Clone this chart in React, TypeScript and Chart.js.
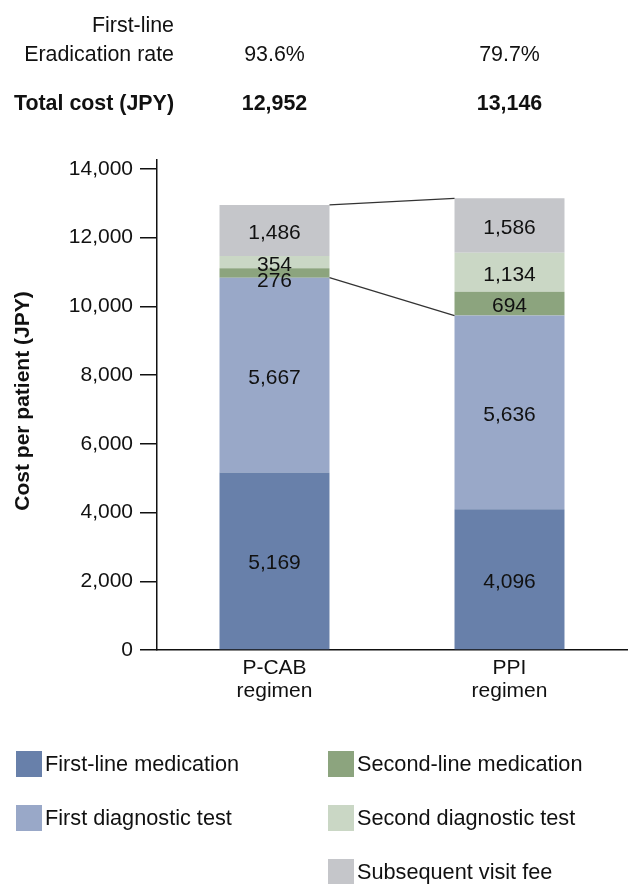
import React, { useEffect, useRef } from "react";
import { Chart, registerables } from "chart.js";

Chart.register(...registerables);

// ---- data ----
const categories = [
  ["P-CAB", "regimen"],
  ["PPI", "regimen"],
];
const seriesNames = [
  "First-line medication",
  "First diagnostic test",
  "Second-line medication",
  "Second diagnostic test",
  "Subsequent visit fee",
];
const firstLineMedication = [5169, 4096];
const firstDiagnosticTest = [5667, 5636];
const secondLineMedication = [276, 694];
const secondDiagnosticTest = [354, 1134];
const subsequentVisitFee = [1486, 1586];
const eradicationRates = [93.6, 79.7];
const yTickValues = [0, 2000, 4000, 6000, 8000, 10000, 12000, 14000];
const yMax = 14260;

// ---- styles ----
const COLORS = ["#6880aa", "#99a8c8", "#8ca47e", "#cad7c5", "#c5c6ca"];
const FONT = "'Liberation Sans', Arial, Helvetica, sans-serif";
const FS = 21;
const FS_HEAD = 21.4;
const FS_LEG = 21.7;
const fmt = (v: number) => v.toLocaleString("en-US");

const seriesValues = [
  firstLineMedication,
  firstDiagnosticTest,
  secondLineMedication,
  secondDiagnosticTest,
  subsequentVisitFee,
];

const totals = categories.map((_, i) =>
  seriesValues.reduce((s, arr) => s + arr[i], 0)
);

const overlayPlugin = {
  id: "overlay",
  afterDatasetsDraw(chart: any) {
    const ctx = chart.ctx;
    const metas = seriesValues.map((_, d) => chart.getDatasetMeta(d));
    ctx.save();
    // connector lines
    ctx.strokeStyle = "#333";
    ctx.lineWidth = 1.2;
    [seriesValues.length - 1, 1].forEach((d) => {
      const a = metas[d].data[0];
      const b = metas[d].data[1];
      ctx.beginPath();
      ctx.moveTo(a.x + a.width / 2, a.y);
      ctx.lineTo(b.x - b.width / 2, b.y);
      ctx.stroke();
    });
    // value labels
    ctx.fillStyle = "#111";
    ctx.font = `${FS}px ${FONT}`;
    ctx.textAlign = "center";
    ctx.textBaseline = "alphabetic";
    metas.forEach((meta: any, d: number) => {
      meta.data.forEach((el: any, i: number) => {
        const h = Math.abs(el.base - el.y);
        let cy = (el.y + el.base) / 2 + 1;
        const next = metas[d + 1] ? metas[d + 1].data[i] : null;
        if (h < 14 && next && Math.abs(next.base - next.y) < 14) cy += 6;
        ctx.fillText(fmt(seriesValues[d][i]), el.x, cy + 7.5);
      });
    });
    ctx.restore();
  },
  afterDraw(chart: any) {
    const ctx = chart.ctx;
    const xs = chart.scales.x;
    const centers = categories.map((_, i) => xs.getPixelForValue(i));
    ctx.save();
    ctx.fillStyle = "#111";
    // header
    ctx.font = `${FS_HEAD}px ${FONT}`;
    ctx.textAlign = "right";
    ctx.textBaseline = "alphabetic";
    ctx.fillText("First-line", 174, 32);
    ctx.fillText("Eradication rate", 174, 61);
    ctx.textAlign = "center";
    eradicationRates.forEach((r, i) => ctx.fillText(`${r.toFixed(1)}%`, centers[i], 61));
    ctx.font = `bold ${FS_HEAD}px ${FONT}`;
    ctx.textAlign = "right";
    ctx.fillText("Total cost (JPY)", 174, 110);
    ctx.textAlign = "center";
    totals.forEach((t, i) => ctx.fillText(fmt(t), centers[i], 110));
    // y-axis title
    ctx.save();
    ctx.translate(23, 401);
    ctx.rotate(-Math.PI / 2);
    ctx.textAlign = "center";
    ctx.textBaseline = "middle";
    ctx.font = `bold ${FS}px ${FONT}`;
    ctx.fillText("Cost per patient (JPY)", 0, 0);
    ctx.restore();
    // legend
    const slots = [
      [16, 751],
      [16, 805],
      [328, 751],
      [328, 805],
      [328, 859],
    ];
    ctx.font = `${FS_LEG}px ${FONT}`;
    ctx.textAlign = "left";
    ctx.textBaseline = "alphabetic";
    seriesNames.forEach((name, d) => {
      const [lx, ly] = slots[d];
      ctx.fillStyle = COLORS[d];
      ctx.fillRect(lx, ly, 26, 26);
      ctx.fillStyle = "#111";
      ctx.fillText(name, lx + 29, ly + 20);
    });
    ctx.restore();
  },
};

export default function App() {
  const ref = useRef<HTMLCanvasElement | null>(null);
  useEffect(() => {
    if (!ref.current) return;
    const chart = new Chart(ref.current, {
      type: "bar",
      data: {
        labels: categories as any,
        datasets: seriesValues.map((vals, d) => ({
          label: seriesNames[d],
          data: vals,
          backgroundColor: COLORS[d],
          borderWidth: 0,
          categoryPercentage: 1,
          barPercentage: 0.468,
        })),
      },
      options: {
        responsive: false,
        animation: false,
        events: [],
        layout: { padding: { top: 160, left: 0, right: 2, bottom: 174 } },
        plugins: {
          legend: { display: false },
          tooltip: { enabled: false },
          title: { display: false },
        },
        scales: {
          x: {
            stacked: true,
            afterFit: (s: any) => {
              s.height = 60;
            },
            grid: { display: false, drawTicks: false },
            border: { display: true, color: "#111", width: 1.5 },
            ticks: {
              color: "#111",
              font: { family: FONT, size: FS, lineHeight: 1.08 },
              padding: 7,
              maxRotation: 0,
              autoSkip: false,
            },
          },
          y: {
            stacked: true,
            min: 0,
            max: yMax,
            afterFit: (s: any) => {
              s.width = 157;
            },
            afterBuildTicks: (s: any) => {
              s.ticks = yTickValues.map((v) => ({ value: v }));
            },
            grid: {
              drawOnChartArea: false,
              drawTicks: true,
              tickLength: 17,
              color: "#111",
              lineWidth: 1.5,
            },
            border: { display: true, color: "#111", width: 1.5 },
            ticks: {
              color: "#111",
              font: { family: FONT, size: FS },
              padding: 7,
              callback: (v: any) => fmt(Number(v)),
            },
          },
        },
      },
      plugins: [overlayPlugin],
    });
    return () => chart.destroy();
  }, []);
  return (
    <div style={{ position: "absolute", left: 0, top: 0, width: 629, height: 884, background: "#fff" }}>
      <canvas ref={ref} width={629} height={884} style={{ width: 629, height: 884, display: "block" }} />
    </div>
  );
}
